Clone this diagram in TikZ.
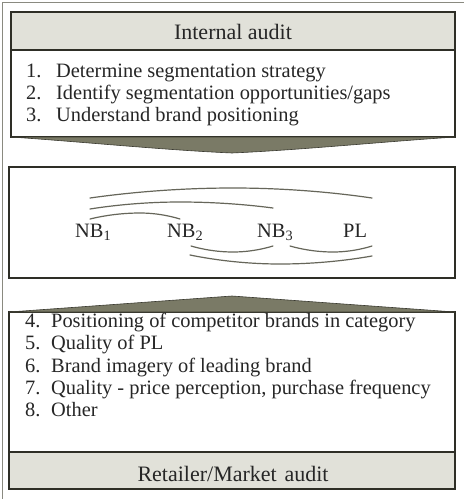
\documentclass[tikz,border=0pt]{standalone}
\usepackage{fontspec}
\setmainfont{Liberation Serif}
\definecolor{edge}{HTML}{2E2E26}
\definecolor{bandfill}{HTML}{E1E1D9}
\definecolor{chev}{HTML}{7A7A66}
\definecolor{chevedge}{HTML}{3A3A30}
\definecolor{arcline}{HTML}{66665A}
\definecolor{ink}{HTML}{262626}
\definecolor{outer}{HTML}{8A8A80}
\begin{document}
\begin{tikzpicture}[x=1pt,y=-1pt,
  panel/.style={draw=edge, line width=1.3pt, anchor=north west, inner sep=0pt, outer sep=0pt},
  band/.style={panel, fill=bandfill},
  item/.style={anchor=base west, inner sep=0pt, text=ink, font=\fontsize{20.4}{22}\selectfont},
  title/.style={anchor=base, inner sep=0pt, text=ink, font=\fontsize{22}{24}\selectfont},
  brand/.style={anchor=base west, inner sep=0pt, text=ink, font=\fontsize{20.4}{22}\selectfont},
  group/.style={draw=arcline, line width=1.2pt, line cap=round},
  chevron/.style={fill=chev, draw=chevedge, line width=0.6pt},
]
\useasboundingbox (0,0) rectangle (464,499);
\fill[white] (0,0) rectangle (464,499);

% outer frame (top and left edges)
\draw[outer, line width=0.8pt] (2,499) -- (2,2) -- (464,2);

% --- internal audit panel ---
\node[band, minimum width=444pt, minimum height=38pt] (ihead) at (11,12) {};
\node[panel, fill=white, minimum width=444pt, minimum height=87pt] (ibody) at (11,50) {};
\node[title] (ititle) at (233,39) {Internal audit};
\node[item] (n1) at (26,77)  {1.};
\node[item] (t1) at (56,77)  {Determine segmentation strategy};
\node[item] (n2) at (26,99)  {2.};
\node[item] (t2) at (56,99)  {Identify segmentation opportunities/gaps};
\node[item] (n3) at (26,121) {3.};
\node[item] (t3) at (56,121) {Understand brand positioning};

% downward chevron under the internal audit panel
\path[chevron] (ibody.south west) -- (ibody.south east)
  .. controls (380,142) and (300,150) .. (232,153)
  .. controls (164,150) and (84,142) .. (ibody.south west) -- cycle;

% --- brand map panel ---
\node[panel, fill=white, minimum width=446pt, minimum height=111pt] (map) at (9,167) {};
\node[brand] (nb1) at (75,237)  {NB\textsubscript{1}};
\node[brand] (nb2) at (167,237) {NB\textsubscript{2}};
\node[brand] (nb3) at (257,237) {NB\textsubscript{3}};
\node[brand] (pl)  at (343,237) {PL};

% grouping arcs above the brands
\coordinate (a1s) at (90,198);  \coordinate (a1p) at (233,188); \coordinate (a1e) at (372,198);
\coordinate (a2s) at (90,209);  \coordinate (a2p) at (180,202); \coordinate (a2e) at (273,208);
\coordinate (a3s) at (90,219);  \coordinate (a3p) at (140,213); \coordinate (a3e) at (180,219);
\draw[group] (a1s) parabola bend (a1p) (a1e);
\draw[group] (a2s) parabola bend (a2p) (a2e);
\draw[group] (a3s) parabola bend (a3p) (a3e);

% grouping arcs below the brands
\coordinate (b1s) at (191,246); \coordinate (b1p) at (233,252); \coordinate (b1e) at (273,246);
\coordinate (b2s) at (290,246); \coordinate (b2p) at (333,252); \coordinate (b2e) at (372,246);
\coordinate (b3s) at (190,255); \coordinate (b3p) at (280,264); \coordinate (b3e) at (372,256);
\draw[group] (b1s) parabola bend (b1p) (b1e);
\draw[group] (b2s) parabola bend (b2p) (b2e);
\draw[group] (b3s) parabola bend (b3p) (b3e);

% --- retailer/market audit panel ---
\node[panel, fill=white, minimum width=446pt, minimum height=140pt] (rbody) at (9,312) {};
\node[band, minimum width=446pt, minimum height=37pt] (rfoot) at (9,452) {};

% upward chevron above the retailer/market audit panel
\path[chevron] (rbody.north west) -- (232,296) -- (rbody.north east) -- cycle;

\node[item] (n4) at (25,327) {4.};
\node[item] (t4) at (51,327) {Positioning of competitor brands in category};
\node[item] (n5) at (25,349) {5.};
\node[item] (t5) at (51,349) {Quality of PL};
\node[item] (n6) at (25,372) {6.};
\node[item] (t6) at (51,372) {Brand imagery of leading brand};
\node[item] (n7) at (25,394) {7.};
\node[item] (t7) at (51,394) {Quality - price perception, purchase frequency};
\node[item] (n8) at (25,416) {8.};
\node[item] (t8) at (51,416) {Other};
\node[title] (rtitle) at (233,481) {Retailer/Market\hspace{0.35em}audit};
\end{tikzpicture}
\end{document}
